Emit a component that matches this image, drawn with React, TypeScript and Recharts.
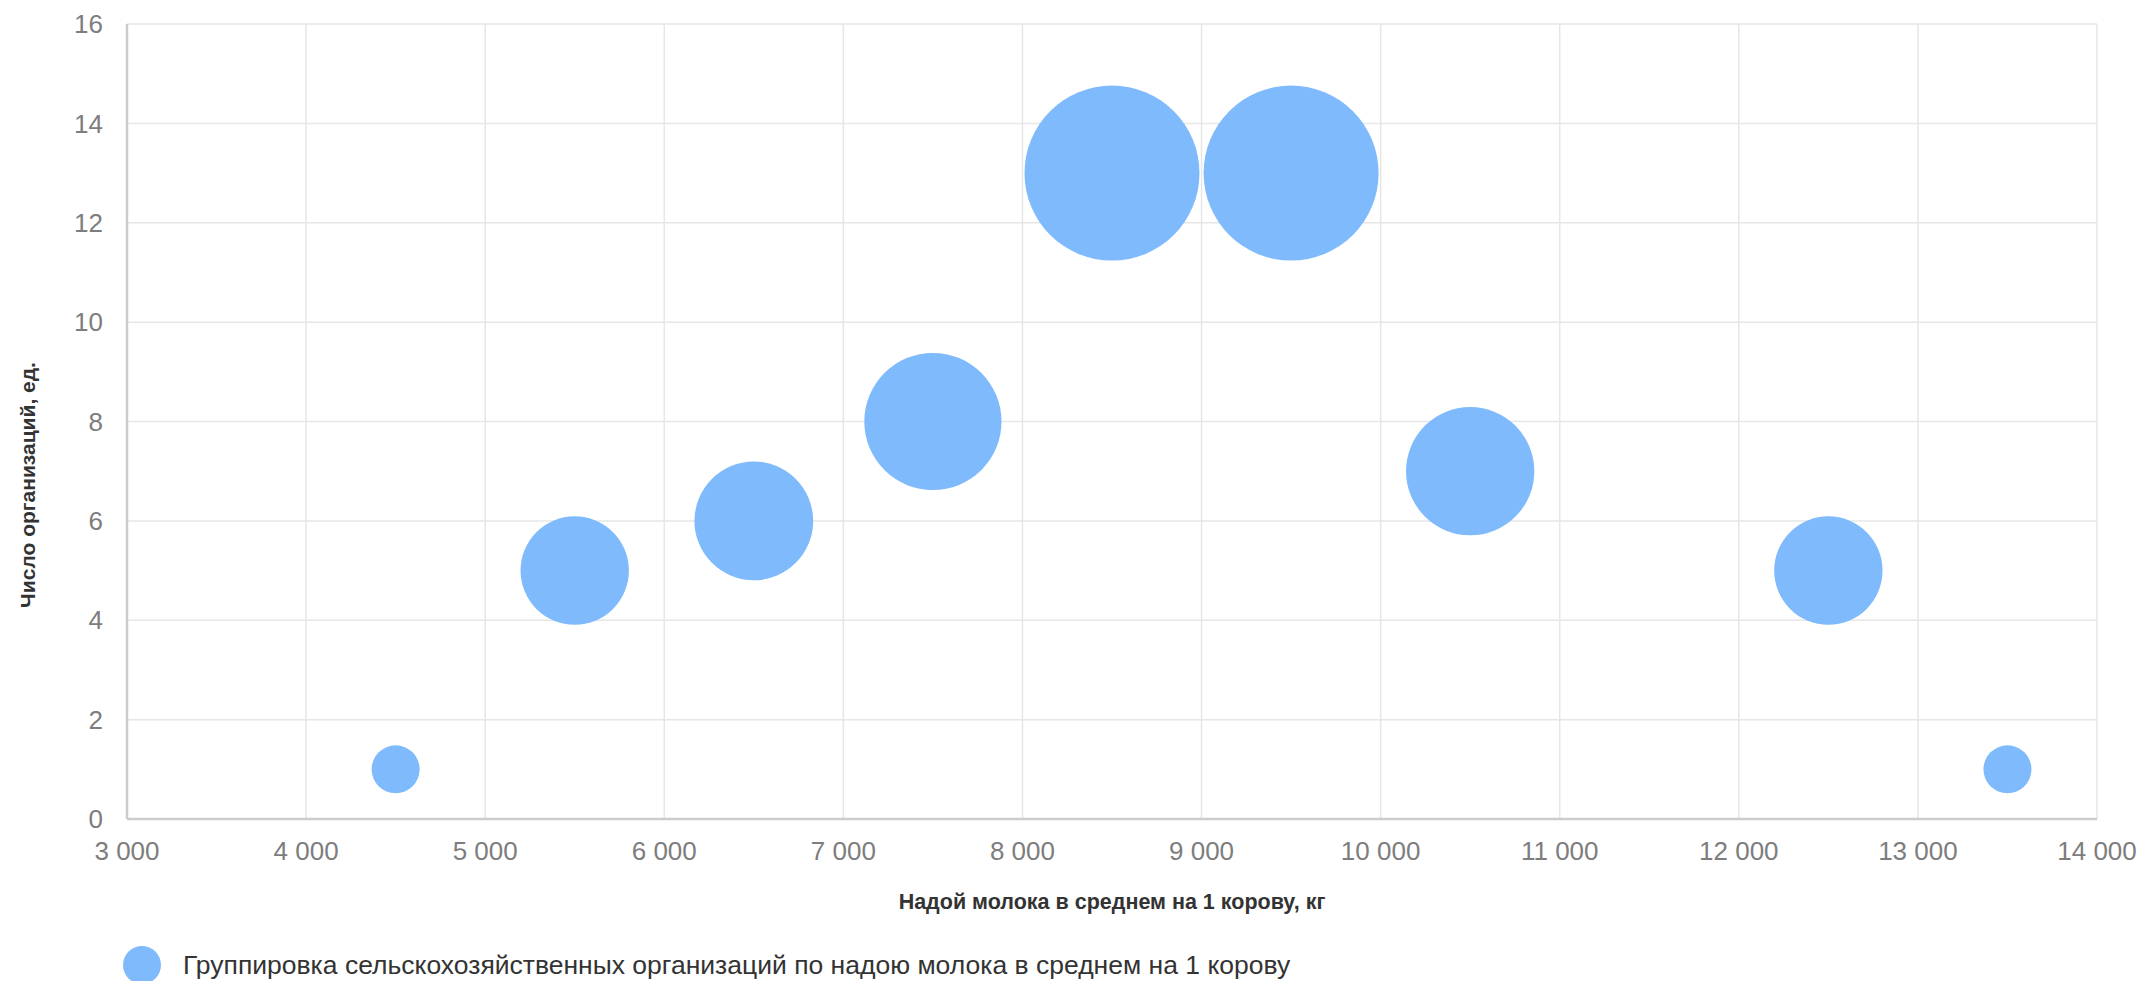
import { ScatterChart, Scatter, XAxis, YAxis, ZAxis, CartesianGrid, Label } from 'recharts';

// Группировка по надою молока (центры интервалов), число организаций
const yieldKg = [4500, 5500, 6500, 7500, 8500, 9500, 10500, 12500, 13500];
const orgCount = [1, 5, 6, 8, 13, 13, 7, 5, 1];
const xTicks = [3000, 4000, 5000, 6000, 7000, 8000, 9000, 10000, 11000, 12000, 13000, 14000];
const yTicks = [0, 2, 4, 6, 8, 10, 12, 14, 16];

const seriesName = 'Группировка сельскохозяйственных организаций по надою молока в среднем на 1 корову';
const xTitle = 'Надой молока в среднем на 1 корову, кг';
const yTitle = 'Число организаций, ед.';

const FONT = '"Liberation Sans", Arial, Helvetica, sans-serif';
const BUBBLE = '#7fbbfc';
const TICK = '#7d7d7d';

const data = yieldKg.map((x, i) => ({ x, y: orgCount[i], z: orgCount[i] }));

const fmt = (v: number) => String(v).replace(/\B(?=(\d{3})+(?!\d))/g, ' ');

export default function App() {
  const minR = 24;
  const maxR = 87.5;

  return (
    <div style={{ position: 'absolute', left: 0, top: 0, width: 2141, height: 981, fontFamily: FONT, background: '#fff' }}>
      <ScatterChart width={2141} height={981} margin={{ top: 24, right: 44, left: 0, bottom: 0 }}>
        <CartesianGrid stroke="#e6e6e6" strokeWidth={1.5} />
        <XAxis
          type="number"
          dataKey="x"
          domain={[3000, 14000]}
          ticks={xTicks}
          tickFormatter={fmt}
          height={162}
          stroke="#cccccc"
          strokeWidth={2.5}
          tickLine={false}
          tickSize={0}
          tickMargin={23}
          tick={{ fill: TICK, fontSize: 26, fontFamily: FONT }}
        >
          <Label
            content={({ viewBox }: any) => (
              <text
                x={viewBox.x + viewBox.width / 2}
                y={viewBox.y + 83}
                textAnchor="middle"
                dominantBaseline="central"
                fill="#333333"
                fontSize={21.5}
                fontWeight="bold"
                fontFamily={FONT}
              >
                {xTitle}
              </text>
            )}
          />
        </XAxis>
        <YAxis
          type="number"
          dataKey="y"
          domain={[0, 16]}
          ticks={yTicks}
          width={127}
          stroke="#cccccc"
          strokeWidth={2.5}
          tickLine={false}
          tickSize={0}
          tickMargin={24}
          tick={{ fill: TICK, fontSize: 26, fontFamily: FONT }}
        >
          <Label
            content={() => (
              <text
                x={27}
                y={485}
                transform="rotate(-90 27 485)"
                textAnchor="middle"
                dominantBaseline="central"
                fill="#333333"
                fontSize={21}
                fontWeight="bold"
                fontFamily={FONT}
              >
                {yTitle}
              </text>
            )}
          />
        </YAxis>
        <ZAxis
          type="number"
          dataKey="z"
          domain={[1, 13]}
          range={[Math.PI * minR * minR, Math.PI * maxR * maxR]}
        />
        <Scatter name={seriesName} data={data} fill={BUBBLE} shape="circle" isAnimationActive={false} />
      </ScatterChart>
      <div
        style={{
          position: 'absolute',
          left: 123,
          top: 946,
          display: 'flex',
          alignItems: 'center',
          height: 38,
          whiteSpace: 'nowrap',
        }}
      >
        <span style={{ width: 38, height: 38, borderRadius: '50%', background: BUBBLE, display: 'inline-block' }} />
        <span style={{ marginLeft: 22, fontSize: 26.5, color: '#333333', fontFamily: FONT }}>{seriesName}</span>
      </div>
    </div>
  );
}
